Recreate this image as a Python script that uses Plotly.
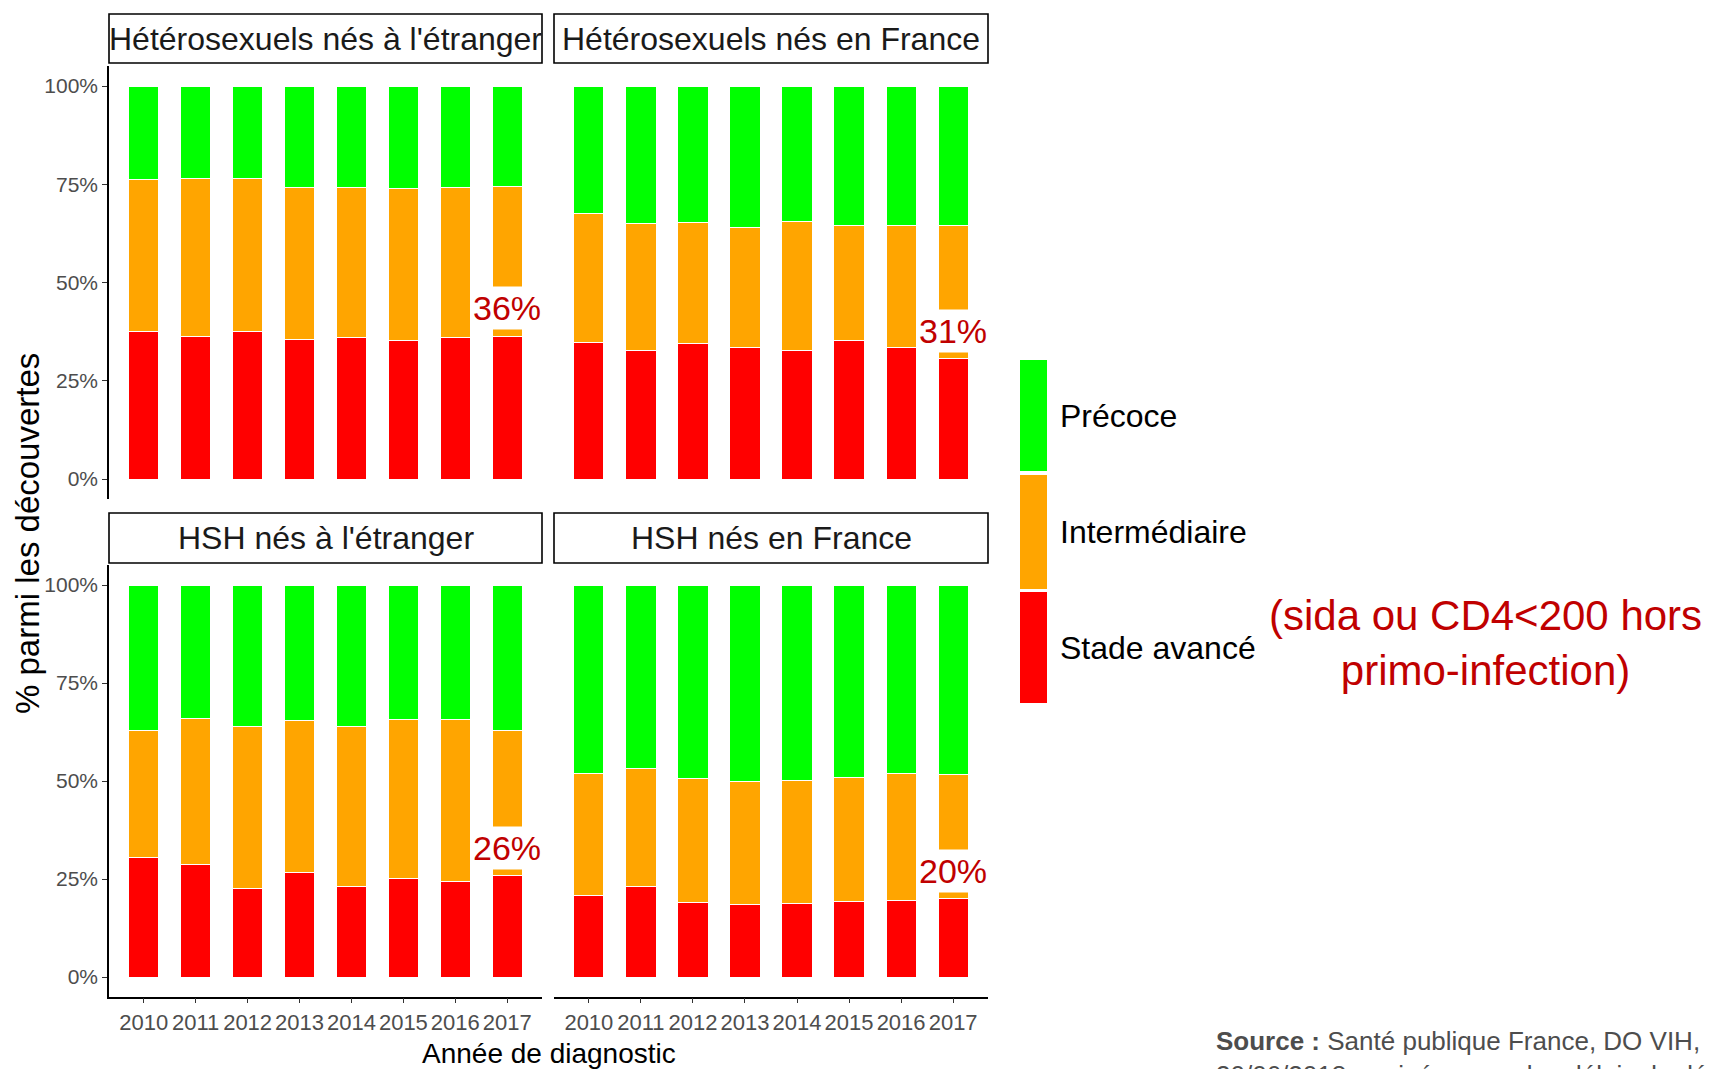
import plotly.graph_objects as go

W, H = 1710, 1069

years = ["2010", "2011", "2012", "2013", "2014", "2015", "2016", "2017"]
panels = ["Hétérosexuels nés à l'étranger", "Hétérosexuels nés en France",
          "HSH nés à l'étranger", "HSH nés en France"]
stages = ["Stade avancé", "Intermédiaire", "Précoce"]
stage_colors = ["#FF0000", "#FFA500", "#00FF00"]

# % of discoveries per stage (bottom to top)
hetero_etr_avance = [37.6, 36.3, 37.5, 35.6, 36.1, 35.3, 35.9, 36.3]
hetero_etr_inter = [38.5, 40.1, 38.9, 38.5, 38.0, 38.5, 38.2, 38.2]
hetero_etr_precoce = [23.9, 23.6, 23.6, 25.9, 25.9, 26.2, 25.9, 25.5]

hetero_fr_avance = [34.7, 32.6, 34.4, 33.4, 32.8, 35.2, 33.5, 30.6]
hetero_fr_inter = [32.8, 32.3, 30.8, 30.6, 32.7, 29.3, 31.0, 33.9]
hetero_fr_precoce = [32.5, 35.1, 34.8, 36.0, 34.5, 35.5, 35.5, 35.5]

hsh_etr_avance = [30.4, 28.7, 22.5, 26.7, 23.0, 25.2, 24.3, 25.8]
hsh_etr_inter = [32.6, 37.3, 41.3, 38.7, 41.0, 40.5, 41.3, 37.2]
hsh_etr_precoce = [37.0, 34.0, 36.2, 34.6, 36.0, 34.3, 34.4, 37.0]

hsh_fr_avance = [20.9, 23.1, 19.0, 18.5, 18.7, 19.3, 19.4, 19.9]
hsh_fr_inter = [30.9, 30.2, 31.6, 31.5, 31.5, 31.6, 32.6, 31.8]
hsh_fr_precoce = [48.2, 46.7, 49.4, 50.0, 49.8, 49.1, 48.0, 48.3]

y_ticks = [0, 25, 50, 75, 100]
y_ticklabels = ["0%", "25%", "50%", "75%", "100%"]

panel_data = [
    (hetero_etr_avance, hetero_etr_inter, hetero_etr_precoce),
    (hetero_fr_avance, hetero_fr_inter, hetero_fr_precoce),
    (hsh_etr_avance, hsh_etr_inter, hsh_etr_precoce),
    (hsh_fr_avance, hsh_fr_inter, hsh_fr_precoce),
]

FONT = "Liberation Sans, Arial, sans-serif"
LABEL_RED = "#C00000"
GRAY = "#4D4D4D"

def px_x(p):
    return p / W

def px_y(p):
    return 1 - p / H

# panel geometry (pixels)
col_x = [(109, 542), (554, 988)]
row_y = [(66.35, 498.65), (565.4, 996.6)]   # plot areas (top, bottom)
strip_y = [(14, 63), (513, 563)]

fig = go.Figure()

for i, series in enumerate(panel_data):
    ax = "" if i == 0 else str(i + 1)
    for s, vals in enumerate(series):
        fig.add_trace(go.Bar(
            x=years, y=vals, name=stages[s],
            marker=dict(color=stage_colors[s], line=dict(color="white", width=1)),
            width=0.58, showlegend=False,
            xaxis="x" + ax, yaxis="y" + ax,
        ))

layout = dict(
    width=W, height=H, margin=dict(l=0, r=0, t=0, b=0),
    barmode="stack", plot_bgcolor="white", paper_bgcolor="white",
    font=dict(family=FONT, color="black"),
    showlegend=False,
)

annotations = []
shapes = []

for i in range(4):
    r, c = divmod(i, 2)
    ax = "" if i == 0 else str(i + 1)
    x0, x1 = col_x[c]
    yt, yb = row_y[r]
    xa = dict(
        domain=[px_x(x0), px_x(x1)], anchor="y" + ax, type="category",
        categoryorder="array", categoryarray=years,
        range=[-0.67, 7.67], showgrid=False, zeroline=False, fixedrange=True,
    )
    if r == 1:
        xa.update(showline=True, linecolor="black", linewidth=1.5,
                  ticks="outside", ticklen=5, tickwidth=1.3, tickcolor="#333333",
                  showticklabels=True,
                  tickfont=dict(family=FONT, size=22, color=GRAY))
    else:
        xa.update(showline=False, ticks="", showticklabels=False)
    ya = dict(
        domain=[px_y(yb), px_y(yt)], anchor="x" + ax, range=[-5, 105],
        showgrid=False, zeroline=False, fixedrange=True,
        tickvals=y_ticks, ticktext=y_ticklabels,
    )
    if c == 0:
        ya.update(showline=True, linecolor="black", linewidth=1.5,
                  ticks="outside", ticklen=5, tickwidth=1.3, tickcolor="#333333",
                  showticklabels=True,
                  tickfont=dict(family=FONT, size=21, color=GRAY))
    else:
        ya.update(showline=False, ticks="", showticklabels=False)
    layout["xaxis" + ax] = xa
    layout["yaxis" + ax] = ya

    # strip
    sy0, sy1 = strip_y[r]
    shapes.append(dict(type="rect", xref="paper", yref="paper",
                       x0=px_x(x0), x1=px_x(x1), y0=px_y(sy1), y1=px_y(sy0),
                       line=dict(color="black", width=1.6), fillcolor="white"))
    annotations.append(dict(xref="paper", yref="paper",
                            x=px_x((x0 + x1) / 2), y=px_y((sy0 + sy1) / 2),
                            text=panels[i], showarrow=False,
                            xanchor="center", yanchor="middle",
                            font=dict(family=FONT, size=32, color="#1A1A1A")))

    # label of last-year advanced stage share (x given as category index)
    avance = panel_data[i][0]
    annotations.append(dict(xref="x" + ax, yref="y" + ax,
                            x=len(years) - 1, y=avance[-1],
                            text=f"{round(avance[-1])}%", showarrow=False,
                            xanchor="center", yanchor="bottom", yshift=6,
                            bgcolor="white", borderpad=2,
                            font=dict(family=FONT, size=34, color=LABEL_RED)))

# axis titles
annotations.append(dict(xref="paper", yref="paper", x=px_x(549), y=px_y(1053),
                        text="Année de diagnostic", showarrow=False,
                        xanchor="center", yanchor="middle",
                        font=dict(family=FONT, size=28, color="black")))
annotations.append(dict(xref="paper", yref="paper", x=px_x(27), y=px_y(534),
                        text="% parmi les découvertes", showarrow=False,
                        textangle=-90, xanchor="center", yanchor="middle",
                        font=dict(family=FONT, size=33, color="black")))

# legend (keys + labels)
legend_keys = [(360, 471), (475, 589), (592, 703)]   # Précoce, Intermédiaire, Stade avancé
legend_order = [2, 1, 0]
for (ky0, ky1), s in zip(legend_keys, legend_order):
    shapes.append(dict(type="rect", xref="paper", yref="paper",
                       x0=px_x(1020), x1=px_x(1047), y0=px_y(ky1), y1=px_y(ky0),
                       line=dict(width=0), fillcolor=stage_colors[s]))
    annotations.append(dict(xref="paper", yref="paper", x=px_x(1058),
                            y=px_y((ky0 + ky1) / 2), text=stages[s],
                            showarrow=False, xanchor="left", yanchor="middle",
                            font=dict(family=FONT, size=32, color="black")))

annotations.append(dict(xref="paper", yref="paper", x=px_x(1485), y=px_y(643),
                        text="(sida ou CD4<200 hors<br>primo-infection)",
                        showarrow=False, xanchor="center", yanchor="middle",
                        align="center",
                        font=dict(family=FONT, size=42, color=LABEL_RED)))

annotations.append(dict(xref="paper", yref="paper", x=px_x(1214), y=px_y(1058),
                        text="<b>Source :</b> Santé publique France, DO VIH,<br>"
                             "30/06/2018 corrigées pour les délais de déclaration",
                        showarrow=False, xanchor="left", yanchor="middle",
                        align="left",
                        font=dict(family=FONT, size=26, color=GRAY)))

layout["annotations"] = annotations
layout["shapes"] = shapes
fig.update_layout(**layout)

fig.write_html("out.html", config={"displayModeBar": False},
               post_script="document.body.style.margin='0';document.body.style.overflow='hidden';")
